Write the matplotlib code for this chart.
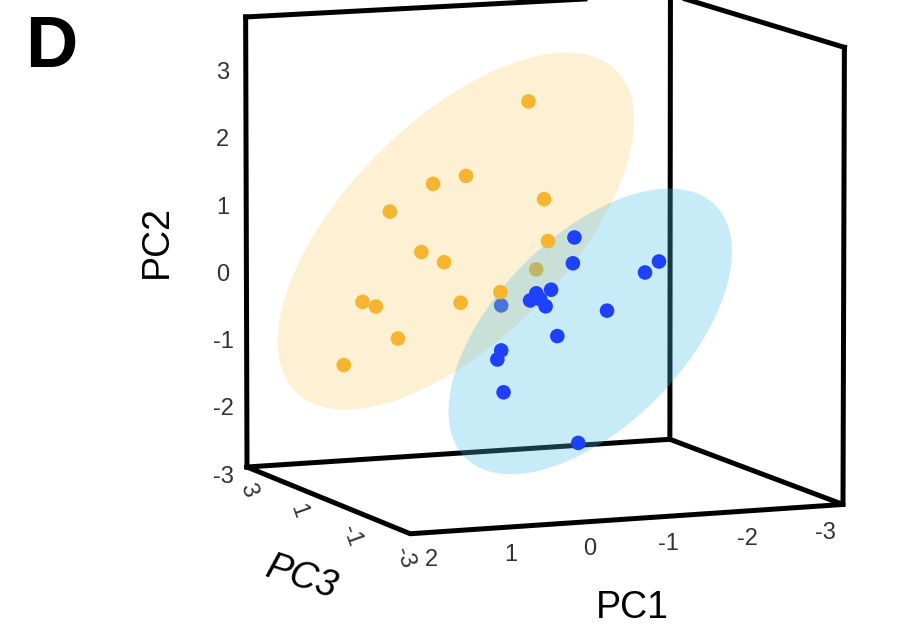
import numpy as np
import matplotlib
matplotlib.use("Agg")
import matplotlib.pyplot as plt
from mpl_toolkits.mplot3d.art3d import Poly3DCollection
from mpl_toolkits.mplot3d import proj3d

plt.rcParams['font.family'] = ['Liberation Sans', 'DejaVu Sans']
plt.rcParams['axes.unicode_minus'] = False

# ---------------- data ----------------
orange_pc1 = [-0.42, 0.38, 0.80, 1.35, -0.62, -0.67, 0.95, 0.66, -0.69, -0.06,
              1.70, 1.53, 0.45, 1.25, 1.94]
orange_pc2 = [2.65, 1.61, 1.52, 1.15, 1.20, 0.58, 0.53, 0.36, 0.09, -0.13,
              -0.15, -0.23, -0.25, -0.72, -1.06]
orange_pc3 = [0.0, 0.0, 0.0, 0.0, 0.0, 0.0, 0.0, 0.0, 0.5, 0.0,
              0.0, 0.0, 0.0, 0.0, 0.0]

blue_pc1 = [-1.01, -0.99, -2.10, -1.92, -0.71, -0.52, -0.44, -0.57, -0.64, -0.24,
            -1.43, -0.79, -0.07, -0.02, -0.10, -1.06]
blue_pc2 = [0.61, 0.23, 0.18, 0.03, -0.14, -0.18, -0.28, -0.27, -0.38, -0.41,
            -0.50, -0.83, -0.99, -1.12, -1.61, -2.43]
blue_pc3 = [0.0, 0.0, 0.0, 0.0, 0.0, 0.0, 0.0, 0.0, 0.0, 0.5,
            0.0, 0.0, 0.0, 0.0, 0.0, 0.0]

# confidence ellipses: centre (PC1, PC2, PC3) and two conjugate semi-axis vectors (dPC1, dPC2)
orange_ell_center = (0.50, 0.81, 0.0)
orange_ell_axis1 = (-2.05, 2.22)
orange_ell_axis2 = (-0.99, -1.21)
blue_ell_center = (-1.22, -0.79, 0.0)
blue_ell_axis1 = (-1.61, 1.75)
blue_ell_axis2 = (-0.86, -1.05)

pc1_ticks = [2, 1, 0, -1, -2, -3]
pc2_ticks = [-3, -2, -1, 0, 1, 2, 3]
pc3_ticks = [3, 1, -1, -3]
pc1_lim = (-3.3, 2.2)
pc2_lim = (-3.0, 3.68)
pc3_lim = (-3.3, 3.0)

ORANGE = '#F6B430'
BLUE = '#1E40FF'

# ---------------- figure ----------------
W, H = 902, 628
fig = plt.figure(figsize=(W / 100, H / 100), dpi=100)
ax = fig.add_axes([0.1, 0.1, 0.8, 0.8], projection='3d', proj_type='persp',
                  focal_length=3.5, computed_zorder=False)
# mpl axes: x = PC3, y = PC1, z = PC2
ax.set_xlim(*pc3_lim)
ax.set_ylim(*pc1_lim)
ax.set_zlim(*pc2_lim)
ax.set_box_aspect(((pc3_lim[1] - pc3_lim[0]) * 70.3,
                   (pc1_lim[1] - pc1_lim[0]) * 84.4,
                   (pc2_lim[1] - pc2_lim[0]) * 68.7))
ax.view_init(elev=8.4, azim=157.6)

for a in (ax.xaxis, ax.yaxis, ax.zaxis):
    a.set_pane_color((1, 1, 1, 0))
    a.pane.set_edgecolor('none')
    a.line.set_color('none')
    a._axinfo['tick']['inward_factor'] = 0.0
    a._axinfo['tick']['outward_factor'] = 0.0
ax.grid(False)
ax.zaxis.set_ticks_position('upper')

ax.set_xticks(pc3_ticks)
ax.set_xticklabels([str(t) for t in pc3_ticks])
ax.set_yticks(pc1_ticks)
ax.set_yticklabels([str(t) for t in pc1_ticks])
ax.set_zticks(pc2_ticks)
ax.set_zticklabels([str(t) for t in pc2_ticks])
ax.tick_params(axis='both', labelsize=17, colors='#333333')
ax.tick_params(axis='x', labelrotation=-70, pad=0)
ax.tick_params(axis='y', pad=1)
for lbl in ax.get_xticklabels():
    lbl.set_ha('left')

# box frame
x0, x1 = pc3_lim
y0, y1 = pc1_lim
z0, z1 = pc2_lim
frame = dict(color='black', lw=3.6, solid_capstyle='projecting', zorder=0)
ax.plot([x1, x1], [y1, y1], [z0, z1], **frame)
ax.plot([x1, x1], [y0, y0], [z0, z1], **frame)
ax.plot([x0, x0], [y0, y0], [z0, z1], **frame)
ax.plot([x1, x1, x0], [y1, y0, y0], [z1, z1, z1], **frame)
ax.plot([x1, x1, x0, x0, x1], [y1, y0, y0, y1, y1], [z0] * 5, **frame)

# points lying behind the ellipse plane (PC3 > 0) are drawn first
o1, o2, o3 = map(np.asarray, (orange_pc1, orange_pc2, orange_pc3))
b1, b2, b3 = map(np.asarray, (blue_pc1, blue_pc2, blue_pc3))
ob, bb = o3 > 0, b3 > 0
pts = dict(s=110, edgecolors='none', depthshade=False)
ax.scatter(o3[ob], o1[ob], o2[ob], c=ORANGE, zorder=1, **pts)
ax.scatter(b3[bb], b1[bb], b2[bb], c=BLUE, zorder=1, **pts)

# ellipses
t = np.linspace(0, 2 * np.pi, 300)
def ellipse(center, v1, v2, color, alpha, z):
    p1 = center[0] + v1[0] * np.cos(t) + v2[0] * np.sin(t)
    p2 = center[1] + v1[1] * np.cos(t) + v2[1] * np.sin(t)
    p3 = np.full_like(t, center[2])
    poly = Poly3DCollection([list(zip(p3, p1, p2))], facecolor=color,
                            edgecolor='none', alpha=alpha, zorder=z)
    ax.add_collection3d(poly)

ellipse(orange_ell_center, orange_ell_axis1, orange_ell_axis2, '#FAB422', 0.2, 2)
ellipse(blue_ell_center, blue_ell_axis1, blue_ell_axis2, '#4BBDE8', 0.3, 3)

ax.scatter(o3[~ob], o1[~ob], o2[~ob], c=ORANGE, zorder=4, **pts)
ax.scatter(b3[~bb], b1[~bb], b2[~bb], c=BLUE, zorder=5, **pts)

# ---- fit axes position so the projected box lands where it should ----
def disp(pc1, pc3, pc2):
    X, Y, _ = proj3d.proj_transform(pc3, pc1, pc2, ax.get_proj())
    return np.array(ax.transData.transform((X, Y)))

fig.canvas.draw()
tA = np.array([247, H - 467])   # (PC1 max, PC3 max, PC2 min)
tB = np.array([843, H - 503])   # (PC1 min, PC3 min, PC2 min)
dA = disp(pc1_lim[1], pc3_lim[1], pc2_lim[0])
dB = disp(pc1_lim[0], pc3_lim[0], pc2_lim[0])
pos = ax.get_position()
S = min(pos.width * W, pos.height * H)
C = np.array([(pos.x0 + pos.width / 2) * W, (pos.y0 + pos.height / 2) * H])
s = (tB[0] - tA[0]) / (dB[0] - dA[0])
S2 = S * s
C2 = tA - s * (dA - C)
ax.set_position([(C2[0] - S2 / 2) / W, (C2[1] - S2 / 2) / H, S2 / W, S2 / H])

# text labels
fig.text(25 / W, 1 - 67 / H, 'D', fontsize=52, fontweight='bold', va='baseline', ha='left')
fig.text(157 / W, 1 - 242 / H, 'PC2', fontsize=27, rotation=90, va='center', ha='center')
fig.text(632 / W, 1 - 608 / H, 'PC1', fontsize=27, va='center', ha='center')
fig.text(302 / W, 1 - 578 / H, 'PC3', fontsize=27, rotation=-18, style='italic',
         va='center', ha='center')

fig.savefig('out.png', dpi=100)
